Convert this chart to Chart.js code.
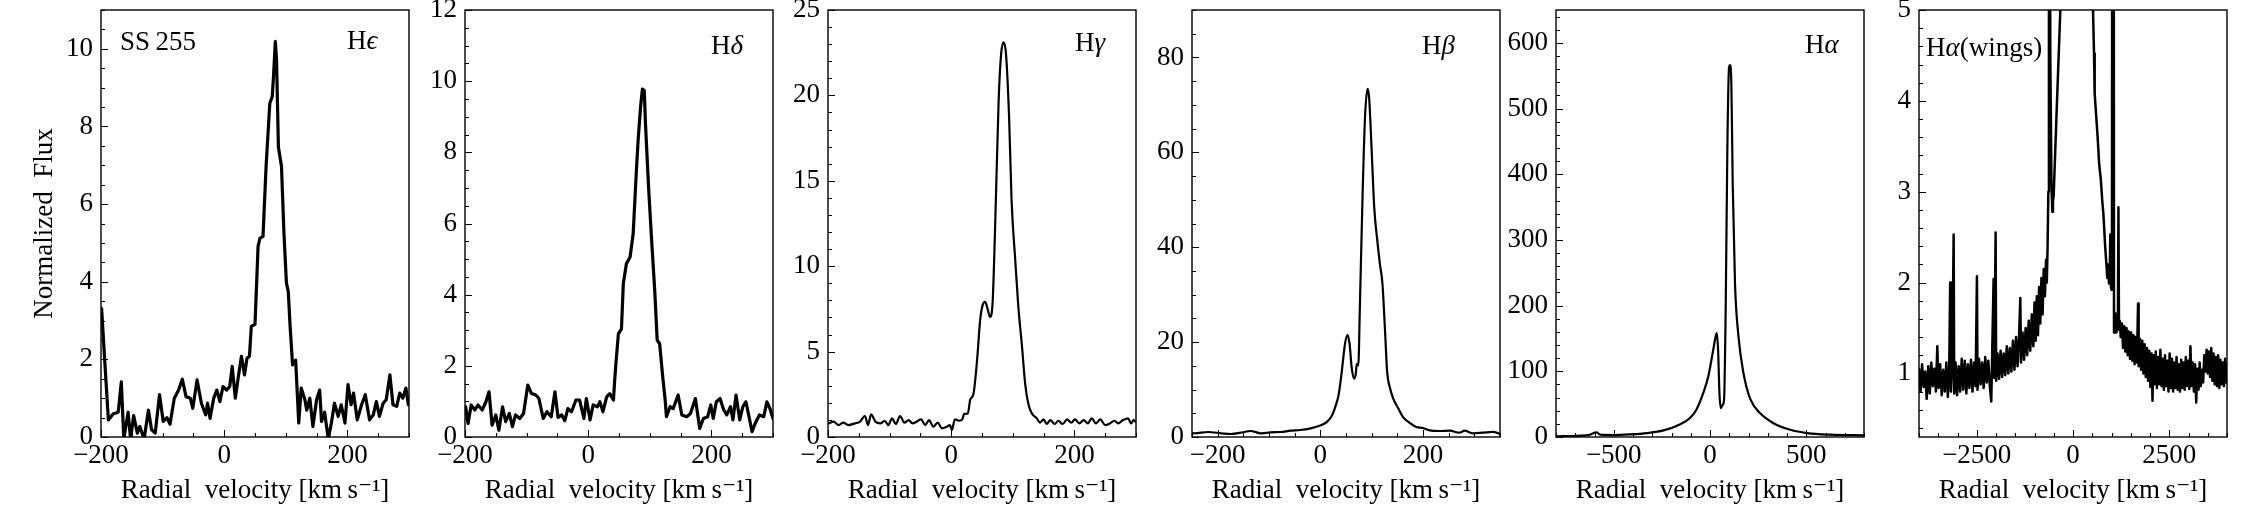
<!DOCTYPE html>
<html><head><meta charset="utf-8">
<script src="https://cdn.jsdelivr.net/npm/chart.js@4"></script>
<style>
html,body{margin:0;padding:0;background:#fff;}
#wrap{position:relative;width:2250px;height:511px;overflow:hidden;background:#fff;}
#wrap canvas{position:absolute;top:0;}
</style></head><body><div id="wrap"></div>
<script>
// ---------------- data ----------------
const heVel = [
-199,-194,-188,-180,-172,-167,-163,-156,-152,-147,
-141,-137,-130,-123,-118,-112,-105,-99,-93,-88,
-81,-74,-68,-62,-55,-51,-44,-37,-30,-27,
-23,-17,-12,-7,-2,4,9,13,18,23,
28,33,37,41,44,50,55,58,63,68,
74,78,80,83,85,88,93,97,101,104,
107,111,116,121,125,131,134,139,144,150,
155,158,163,169,174,179,185,190,196,201,
206,210,216,223,229,236,242,247,252,258,
263,269,274,280,285,290,295,299];
const heFlux = [
3.31,1.98,0.44,0.6,0.64,1.42,-0.05,0.64,-0.05,0.55,
0.1,0.27,-0.05,0.69,0.19,0.1,1.09,0.4,0.5,0.33,
1.0,1.21,1.49,1.04,1.0,0.74,1.47,0.87,0.57,0.87,
0.48,1.0,1.21,0.91,1.3,1.21,1.3,1.82,1.0,1.56,
2.08,1.6,2.03,2.08,2.85,2.9,4.91,5.12,5.17,6.97,
8.59,8.77,9.28,10.19,9.7,7.47,6.97,5.25,3.97,3.75,
2.85,1.86,1.98,0.36,1.26,0.96,0.69,1.0,0.27,0.96,
1.21,0.4,0.64,-0.05,0.36,0.87,0.53,0.83,0.36,1.35,
0.83,1.13,0.44,0.83,1.09,0.44,0.57,0.91,0.53,0.87,
0.96,1.6,0.83,0.79,1.13,1.0,1.26,0.83];

const hdVel = [
-199,-195,-190,-184,-179,-172,-166,-161,-156,-150,
-145,-139,-134,-128,-123,-118,-111,-105,-98,-92,
-85,-80,-73,-67,-60,-54,-49,-43,-38,-33,
-27,-20,-14,-7,-3,3,8,15,19,24,
30,35,41,43,45,49,54,57,62,68,
73,78,81,85,88,91,93,98,103,108,
112,116,121,125,127,133,138,146,152,160,
166,174,181,187,194,199,203,208,214,220,
225,231,235,240,246,251,256,260,266,271,
278,285,290,295,300];
const hdFlux = [
0.85,0.38,0.9,0.76,0.9,0.76,0.99,1.27,0.33,0.62,
0.19,0.85,0.43,0.66,0.29,0.62,0.52,0.66,1.46,1.22,
1.18,1.08,0.52,0.71,0.57,1.27,0.55,0.62,0.46,0.8,
0.71,1.04,1.04,0.52,1.08,0.48,0.9,0.85,0.99,0.71,
1.13,1.22,1.04,1.6,2.07,2.9,3.04,4.31,4.87,5.06,
5.71,7.4,8.33,9.27,9.78,9.74,8.8,7.02,5.52,4.12,
2.72,2.62,1.69,1.03,0.57,0.85,0.8,1.18,0.62,0.57,
0.66,1.08,0.24,0.52,0.57,0.9,0.52,0.99,1.08,0.76,
0.62,0.85,0.48,1.18,0.48,0.85,0.99,0.66,0.15,0.38,
0.62,0.57,0.99,0.8,0.52];

const hgVel = [
-199,-191,-183,-175,-167,-156,-148,-140,-135,-130,
-123,-115,-108,-102,-96,-90,-83,-76,-69,-63,
-56,-49,-42,-36,-29,-22,-15,-7,-2,1,
6,13,18,21,27,31,36,42,47,51,
55,59,63,67,71,77,81,85,89,94,
98,104,109,115,120,125,131,134,139,144,
150,155,161,168,174,181,188,195,201,208,
215,222,228,235,242,250,258,265,271,279,
287,292,296,299];
const hgFlux = [
0.8,0.9,0.7,0.84,0.7,0.8,0.9,1.23,0.7,1.33,
0.9,0.8,0.95,0.7,1.09,0.76,1.23,0.84,0.99,0.8,
0.9,1.03,0.7,0.99,0.6,0.84,0.51,0.6,0.7,0.41,
1.03,0.95,1.03,1.35,1.38,2.2,2.5,4.5,6.84,7.72,
7.91,7.52,7.03,7.72,11.9,19.7,22.4,23.1,22.4,18.7,
13.86,10.35,7.62,5.28,3.14,1.97,1.38,1.25,1.09,0.84,
1.03,0.76,0.99,0.76,0.95,0.76,1.03,0.84,1.03,0.8,
0.99,0.8,1.09,0.8,1.03,0.7,0.8,0.95,0.8,0.99,
1.09,0.8,0.99,0.9];

const hbVel = [
-248,-245,-219,-193,-174,-155,-136,-116,-97,-77,
-58,-39,-19,-3,13,23,29,36,42,48,
53,57,61,66,69,71,74,77,82,87,
92,95,100,105,111,116,121,126,130,136,
142,152,161,174,187,200,213,232,252,271,
281,297,316,336,350];
const hbFlux = [
0.8,0.78,1.05,0.78,0.63,0.91,1.26,0.78,0.98,1.05,
1.33,1.47,1.82,2.3,3.2,4.6,6.3,9.1,14.0,19.6,
21.5,19.6,14.7,12.3,13.3,15.4,15.1,27.3,49.8,67.3,
73.4,71.6,60.4,48.4,41.4,36.5,32.3,22.5,14.0,10.2,
8.1,6.0,4.2,3.0,2.1,1.9,1.4,1.26,1.33,0.91,
1.33,0.78,0.91,1.1,0.63];

const haVel = [
-800,-675,-624,-589,-571,-502,-415,-327,-241,-157,
-104,-70,-35,-9,14,26,35,42,49,56,
66,73,82,90,99,104,111,118,130,148,
174,209,261,330,417,504,626,800];
const haFlux = [
1,2,3.5,7,3.5,3,4,6,10,19,
29,42,67,92,128,148,158,133,67,44,
49,57,208,436,563,566,537,385,233,153,
97,58,36,21,11,6,3.5,2.5];

const hwVel = [
-4000,-3960,-3920,-3880,-3840,-3800,-3760,-3720,-3680,-3640,
-3600,-3560,-3525,-3490,-3450,-3410,-3370,-3330,-3290,-3250,
-3215,-3190,-3170,-3135,-3100,-3085,-3050,-3010,-2970,-2930,
-2890,-2850,-2810,-2770,-2730,-2690,-2650,-2610,-2570,-2530,
-2495,-2480,-2440,-2400,-2360,-2320,-2280,-2240,-2200,-2160,
-2123,-2100,-2062,-2045,-2010,-1995,-1960,-1920,-1880,-1840,
-1800,-1760,-1720,-1680,-1640,-1600,-1560,-1520,-1480,-1440,
-1400,-1369,-1350,-1310,-1270,-1230,-1190,-1150,-1110,-1070,
-1030,-1000,-970,-940,-910,-880,-850,-820,-790,-760,
-730,-700,-680,-660,
-640,-625,-605,-590,-560,-537,-520,-503,-415,-329,
-250,-150,0,100,200,350,450,503,546,563,
600,640,680,720,760,790,810,835,866,890,
910,935,955,969,985,1000,1012,1022,1055,1065,
1085,1108,1130,1150,1165,1180,1195,
1215,1240,1270,1300,1330,1360,1390,1420,1450,1480,
1510,1540,1570,1600,1630,1660,1690,1705,1740,1770,
1800,1830,1860,1890,1920,1950,1980,2010,2040,2065,
2090,2120,2150,2180,2210,2240,2270,2300,2330,2360,
2390,2420,2450,2480,2510,2540,2570,2600,2630,2660,
2690,2720,2750,2780,2810,2840,2870,2900,2930,2960,
2990,3020,3050,3080,3110,3140,3170,3200,3230,3260,
3290,3320,3350,3380,3410,3440,3470,3500,3530,3560,
3590,3620,3650,3680,3710,3740,3770,3800,3830,3860,
3890,3920,3950,3980,4000];
const hwFlux = [
1.05,0.80,1.10,0.85,1.02,0.72,1.08,0.78,1.12,0.86,
1.05,0.80,1.30,0.84,1.10,0.76,1.04,0.80,1.12,0.74,
1.06,2.00,0.80,1.10,2.53,0.78,1.12,0.76,1.08,0.80,
1.16,0.82,1.14,0.78,1.10,0.84,1.15,0.80,1.12,0.86,
2.07,0.82,1.16,0.88,1.12,0.84,1.18,0.90,1.14,0.86,
0.69,1.20,2.04,0.95,2.55,0.92,1.22,0.94,1.25,0.96,
1.22,0.98,1.30,1.00,1.28,1.02,1.36,1.04,1.40,1.08,
1.42,1.83,1.12,1.45,1.15,1.50,1.20,1.58,1.25,1.65,
1.30,1.78,1.36,1.85,1.42,1.95,1.55,2.05,1.65,2.15,
1.85,2.25,2.00,2.40,
3.00,9.00,9.00,4.50,3.10,2.78,2.90,2.95,4.00,5.00,
8.0,20,95,560,60,20,8,5.3,4.52,4.08,
3.85,3.60,3.30,3.15,2.90,2.75,2.60,2.40,2.21,2.05,
2.20,1.99,2.10,2.53,1.95,1.92,2.20,9.00,9.00,1.45,
1.60,1.66,1.45,1.58,1.48,2.83,1.50,
1.58,1.40,1.55,1.28,1.52,1.24,1.50,1.20,1.46,1.16,
1.45,1.14,1.42,1.10,1.40,1.12,1.77,1.08,1.38,1.04,
1.36,1.00,1.32,0.96,1.28,0.92,1.25,0.85,1.22,0.70,
1.20,0.88,1.24,0.84,1.18,0.88,1.26,0.86,1.16,0.82,
1.20,0.86,1.14,0.80,1.22,0.84,1.16,0.80,1.12,0.84,
1.18,0.82,1.10,0.80,1.15,0.84,1.12,0.82,1.18,0.86,
1.14,0.83,1.30,0.86,1.12,0.80,1.10,0.68,1.05,0.82,
1.12,0.86,1.04,0.90,1.20,1.02,1.26,1.00,1.24,0.96,
1.28,0.92,1.22,0.88,1.18,0.86,1.20,0.84,1.15,0.88,
1.12,0.86,1.16,0.90,1.10];

// tick labels
const xTicksNarrow = [-200, 0, 200];
const xTicksHa = [-500, 0, 500];
const xTicksWings = [-2500, 0, 2500];
const yTicksHe = [0, 2, 4, 6, 8, 10];
const yTicksHd = [0, 2, 4, 6, 8, 10, 12];
const yTicksHg = [0, 5, 10, 15, 20, 25];
const yTicksHb = [0, 20, 40, 60, 80];
const yTicksHa = [0, 100, 200, 300, 400, 500, 600];
const yTicksWings = [1, 2, 3, 4, 5];

const xTitle = 'Radial\u2002velocity [km\u2009s\u207B\u00B9]';
const yTitle = 'Normalized\u2002Flux';

// ---------------- styling / layout ----------------
const FONT = "'Liberation Serif', 'DejaVu Serif', serif";
const FS = 27;
const PLOT_W = 308, Y_W = 100, RIGHT_PAD = 20, TOP = 10, BOTTOM = 437, H = 511;

const panels = [
  {vel: heVel, flux: heFlux, L: 101, xr: [-200, 300], xt: xTicksNarrow, xm: 50, yr: [0, 11], yt: yTicksHe, ym: 0.5, lw: 3.2, smooth: false, ytitle: true,
   texts: [{dx: 19, y: 50, parts: [{t: 'SS\u2009255'}]}, {dx: 246, y: 49, parts: [{t: 'H'}, {t: '\u03F5', it: true}]}]},
  {vel: hdVel, flux: hdFlux, L: 465, xr: [-200, 300], xt: xTicksNarrow, xm: 50, yr: [0, 12], yt: yTicksHd, ym: 0.5, lw: 3.2, smooth: false,
   texts: [{dx: 246, y: 54, parts: [{t: 'H'}, {t: '\u03B4', it: true}]}]},
  {vel: hgVel, flux: hgFlux, L: 828, xr: [-200, 300], xt: xTicksNarrow, xm: 50, yr: [0, 25], yt: yTicksHg, ym: 1, lw: 2.2, smooth: true,
   texts: [{dx: 247, y: 51, parts: [{t: 'H'}, {t: '\u03B3', it: true}]}]},
  {vel: hbVel, flux: hbFlux, L: 1192, xr: [-250, 350], xt: xTicksNarrow, xm: 50, yr: [0, 90], yt: yTicksHb, ym: 5, lw: 2.2, smooth: true,
   texts: [{dx: 230, y: 54, parts: [{t: 'H'}, {t: '\u03B2', it: true}]}]},
  {vel: haVel, flux: haFlux, L: 1556, xr: [-800, 800], xt: xTicksHa, xm: 100, yr: [0, 650], yt: yTicksHa, ym: 20, lw: 2.2, smooth: true,
   texts: [{dx: 249, y: 53, parts: [{t: 'H'}, {t: '\u03B1', it: true}]}]},
  {vel: hwVel, flux: hwFlux, L: 1919, xr: [-4000, 4000], xt: xTicksWings, xm: 500, yr: [0.3, 5], yt: yTicksWings, ym: 0.2, lw: 2.5, smooth: false,
   texts: [{dx: 7, y: 56, parts: [{t: 'H'}, {t: '\u03B1', it: true}, {t: '(wings)'}]}]}
];

const fmt = v => String(v).replace('-', '\u2212');

const framePlugin = {
  id: 'frameTicks',
  afterDatasetsDraw(chart, args, o) {
    const {ctx, chartArea: a} = chart;
    const xs = chart.scales.x, ys = chart.scales.y;
    ctx.save();
    ctx.strokeStyle = '#000';
    ctx.lineWidth = 1;
    ctx.beginPath();
    const nx0 = Math.ceil(xs.min / o.xm - 1e-9), nx1 = Math.floor(xs.max / o.xm + 1e-9);
    for (let n = nx0; n <= nx1; n++) {
      const v = n * o.xm;
      const major = o.xt.some(t => Math.abs(t - v) < 1e-9);
      const px = Math.round(xs.getPixelForValue(v)) + 0.5;
      ctx.moveTo(px, a.bottom); ctx.lineTo(px, a.bottom - (major ? 7 : 4));
    }
    const ny0 = Math.ceil(ys.min / o.ym - 1e-9), ny1 = Math.floor(ys.max / o.ym + 1e-9);
    for (let n = ny0; n <= ny1; n++) {
      const v = n * o.ym;
      const major = o.yt.some(t => Math.abs(t - v) < 1e-9);
      const py = Math.round(ys.getPixelForValue(v)) + 0.5;
      ctx.moveTo(a.left, py); ctx.lineTo(a.left + (major ? 7 : 4), py);
    }
    ctx.stroke();
    ctx.lineWidth = 1.4;
    ctx.strokeRect(a.left, a.top, a.right - a.left, a.bottom - a.top);
    ctx.restore();
  }
};

const textPlugin = {
  id: 'panelText',
  afterDraw(chart, args, o) {
    const {ctx, chartArea: a} = chart;
    ctx.save();
    ctx.fillStyle = '#000';
    ctx.textBaseline = 'alphabetic';
    ctx.textAlign = 'left';
    for (const item of o.items || []) {
      let x = a.left + item.dx;
      for (const p of item.parts) {
        ctx.font = (p.it ? 'italic ' : '') + FS + 'px ' + FONT;
        ctx.fillText(p.t, x, item.y);
        x += ctx.measureText(p.t).width;
      }
    }
    ctx.restore();
  }
};

Chart.defaults.color = '#000';
Chart.defaults.font.family = FONT;

const wrap = document.getElementById('wrap');
panels.forEach((p) => {
  const c = document.createElement('canvas');
  const W = Y_W + PLOT_W + RIGHT_PAD;
  c.width = W; c.height = H;
  c.style.left = (p.L - Y_W) + 'px';
  c.style.width = W + 'px'; c.style.height = H + 'px';
  wrap.appendChild(c);
  new Chart(c, {
    type: 'line',
    data: {
      datasets: [{
        data: p.vel.map((v, i) => ({x: v, y: p.flux[i]})),
        borderColor: '#000',
        borderWidth: p.lw,
        pointRadius: 0,
        fill: false,
        tension: 0,
        cubicInterpolationMode: p.smooth ? 'monotone' : 'default',
        borderJoinStyle: 'round',
        borderCapStyle: 'round'
      }]
    },
    options: {
      responsive: false,
      animation: false,
      events: [],
      layout: {padding: {top: TOP, right: RIGHT_PAD, left: 0, bottom: 0}},
      plugins: {
        legend: {display: false},
        tooltip: {enabled: false},
        frameTicks: {xt: p.xt, xm: p.xm, yt: p.yt, ym: p.ym},
        panelText: {items: p.texts}
      },
      scales: {
        x: {
          type: 'linear', min: p.xr[0], max: p.xr[1],
          grid: {display: false, drawTicks: false, tickLength: 0},
          border: {display: false},
          ticks: {font: {family: FONT, size: FS}, color: '#000', padding: 3, maxRotation: 0, autoSkip: false, callback: fmt},
          afterBuildTicks: s => { s.ticks = p.xt.map(v => ({value: v})); },
          afterFit: s => { s.height = H - BOTTOM; s.paddingLeft = 0; s.paddingRight = 0; },
          title: {display: true, text: xTitle, font: {family: FONT, size: FS}, color: '#000', padding: {top: 0, bottom: 4}}
        },
        y: {
          type: 'linear', min: p.yr[0], max: p.yr[1],
          grid: {display: false, drawTicks: false, tickLength: 0},
          border: {display: false},
          ticks: {font: {family: FONT, size: FS}, color: '#000', padding: 8, autoSkip: false, callback: fmt},
          afterBuildTicks: s => { s.ticks = p.yt.map(v => ({value: v})); },
          afterFit: s => { s.width = Y_W; s.paddingTop = 0; s.paddingBottom = 0; },
          title: {display: !!p.ytitle, text: yTitle, font: {family: FONT, size: FS}, color: '#000', padding: {top: 28, bottom: 0}}
        }
      }
    },
    plugins: [framePlugin, textPlugin]
  });
});
</script>
</body></html>
